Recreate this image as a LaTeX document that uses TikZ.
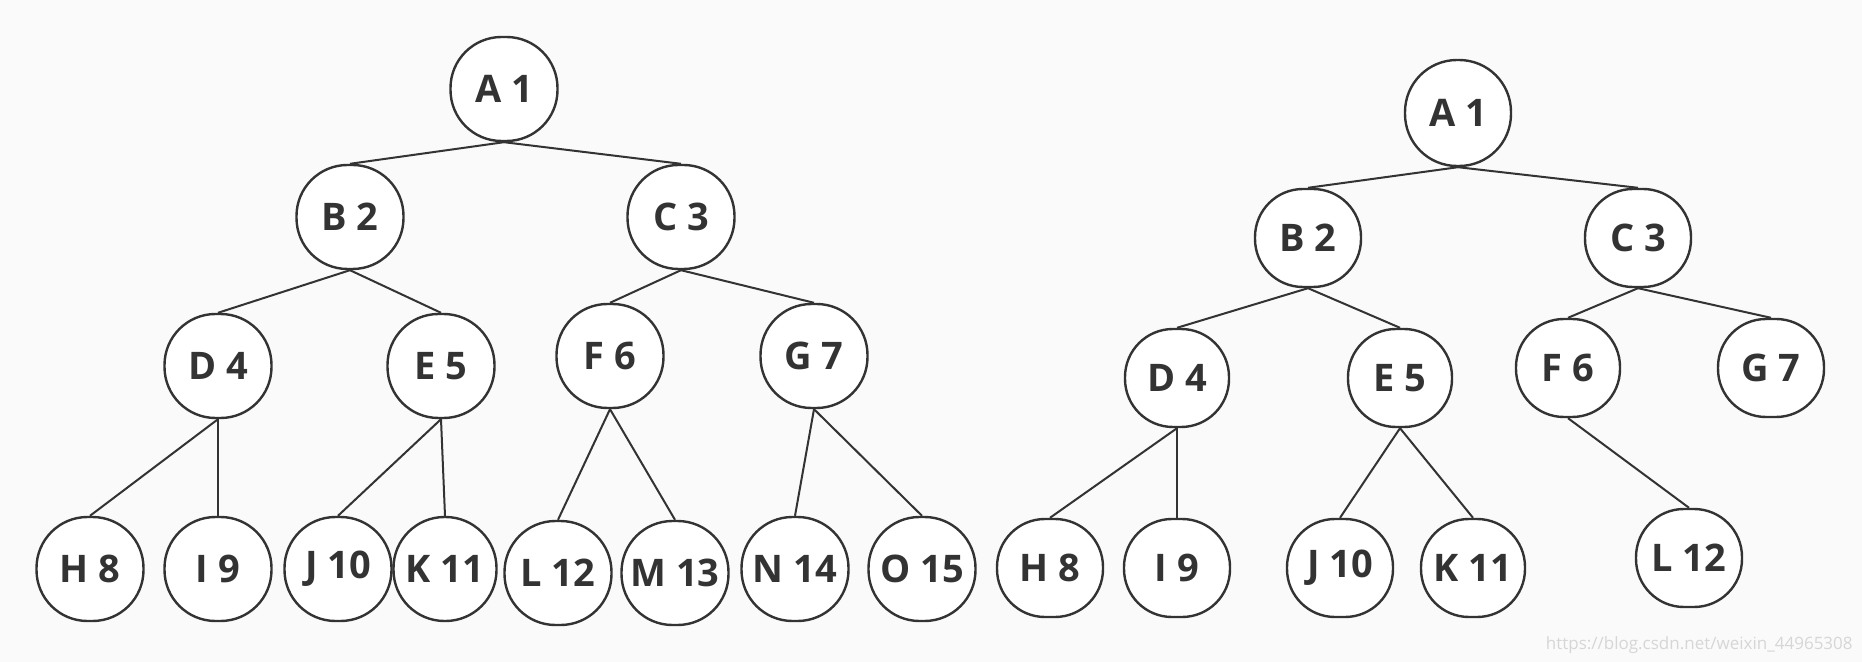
\documentclass[tikz,border=0pt]{standalone}
\usepackage{fontspec}
\setmainfont{Open Sans}
\usepackage{tikz}
\definecolor{ink}{HTML}{333333}
\definecolor{paper}{HTML}{FAFAFA}
\definecolor{mark}{HTML}{D6D6D6}
\tikzset{%
    tnode/.style = {draw=ink, fill=white, line width=1.2pt, rectangle, rounded corners=25.5pt,
        minimum width=53.5pt, minimum height=52pt, inner sep=0pt, text=ink,
        font=\fontsize{19}{22}\selectfont\bfseries},
    rnode/.style = {tnode, rounded corners=24pt, minimum width=53pt, minimum height=49pt},
    link/.style = {draw=ink, line width=1pt},
}

\begin{document}
\begin{tikzpicture}[x=0.5pt, y=-0.5pt]
        \fill[paper] (0,0) rectangle (1862,662);
        \useasboundingbox (0,0) rectangle (1862,662);

        \draw
            node at (504,89)  [tnode] (a) {A 1}
            node at (350,217) [tnode] (b) {B 2}
            node at (681,217) [tnode] (c) {C 3}
            node at (218,366) [tnode] (d) {D 4}
            node at (441,366) [tnode] (e) {E 5}
            node at (610,356) [tnode] (f) {F 6}
            node at (814,356) [tnode] (g) {G 7}
            node at (90,569)  [tnode] (h) {H 8}
            node at (218,569) [tnode] (i) {I 9}
            node at (338,569) [tnode] (j) {J 10}
            node at (445,569) [tnode, minimum width=51.5pt] (k) {K 11}
            node at (558,573) [tnode] (l) {L 12}
            node at (675,573) [tnode] (m) {M 13}
            node at (795,569) [tnode] (n) {N 14}
            node at (922,569) [tnode] (o) {O 15};

        \draw
            node at (1458,113) [rnode, rounded corners=26pt, minimum height=53pt] (ra) {A 1}
            node at (1308,238) [rnode] (rb) {B 2}
            node at (1638,238) [rnode] (rc) {C 3}
            node at (1177,378) [rnode, minimum width=52pt] (rd) {D 4}
            node at (1400,378) [rnode, minimum width=52pt] (re) {E 5}
            node at (1568,368) [rnode, minimum width=52pt] (rf) {F 6}
            node at (1771,368) [rnode] (rg) {G 7}
            node at (1050,568) [rnode] (rh) {H 8}
            node at (1177,568) [rnode] (ri) {I 9}
            node at (1340,568) [rnode] (rj) {J 10}
            node at (1473,568) [rnode, minimum width=52pt] (rk) {K 11}
            node at (1689,558) [rnode] (rl) {L 12};

        \draw[link] (a.south) -- (b.north);
        \draw[link] (a.south) -- (c.north);
        \draw[link] (b.south) -- (d.north);
        \draw[link] (b.south) -- (e.north);
        \draw[link] (c.south) -- (f.north);
        \draw[link] (c.south) -- (g.north);
        \draw[link] (d.south) -- (h.north);
        \draw[link] (d.south) -- (i.north);
        \draw[link] (e.south) -- (j.north);
        \draw[link] (e.south) -- (k.north);
        \draw[link] (f.south) -- (l.north);
        \draw[link] (f.south) -- (m.north);
        \draw[link] (g.south) -- (n.north);
        \draw[link] (g.south) -- (o.north);

        \draw[link] (ra.south) -- (rb.north);
        \draw[link] (ra.south) -- (rc.north);
        \draw[link] (rb.south) -- (rd.north);
        \draw[link] (rb.south) -- (re.north);
        \draw[link] (rc.south) -- (rf.north);
        \draw[link] (rc.south) -- (rg.north);
        \draw[link] (rd.south) -- (rh.north);
        \draw[link] (rd.south) -- (ri.north);
        \draw[link] (re.south) -- (rj.north);
        \draw[link] (re.south) -- (rk.north);
        \draw[link] (rf.south) -- (rl.north);

        \node[anchor=east, text=mark, inner sep=0pt, font=\fontsize{8.5}{10}\selectfont]
            (url) at (1853,645) {https://blog.csdn.net/weixin\_44965308};
    \end{tikzpicture}
\end{document}
